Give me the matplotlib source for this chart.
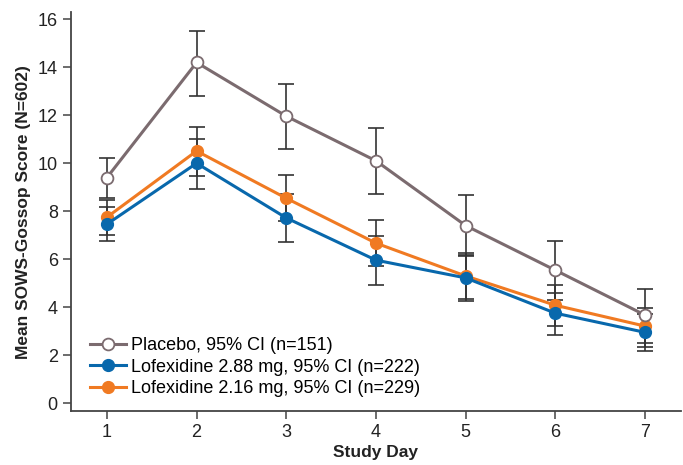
import matplotlib
matplotlib.use("Agg")
import matplotlib.pyplot as plt

plt.rcParams["font.family"] = ["Liberation Sans", "DejaVu Sans"]

days = [1, 2, 3, 4, 5, 6, 7]

placebo_mean = [9.4, 14.2, 11.96, 10.1, 7.4, 5.54, 3.67]
placebo_lo = [8.55, 12.82, 10.6, 8.7, 6.15, 4.3, 2.51]
placebo_hi = [10.22, 15.52, 13.3, 11.47, 8.67, 6.75, 4.74]

lofex288_mean = [7.46, 10.0, 7.72, 5.96, 5.22, 3.75, 2.95]
lofex288_lo = [6.76, 8.92, 6.71, 4.92, 4.26, 2.85, 2.18]
lofex288_hi = [8.16, 11.03, 8.7, 6.98, 6.17, 4.6, 3.72]

lofex216_mean = [7.75, 10.51, 8.54, 6.67, 5.3, 4.08, 3.21]
lofex216_lo = [7.0, 9.47, 7.6, 5.7, 4.33, 3.22, 2.35]
lofex216_hi = [8.45, 11.5, 9.49, 7.62, 6.25, 4.92, 3.95]

labels = [
    "Placebo, 95% CI (n=151)",
    "Lofexidine 2.88 mg, 95% CI (n=222)",
    "Lofexidine 2.16 mg, 95% CI (n=229)",
]

C_PLACEBO = "#7b6b6f"
C_288 = "#0868ac"
C_216 = "#f07a22"
C_ERR = "#333333"


def err(mean, lo, hi):
    return [[m - l for m, l in zip(mean, lo)], [h - m for m, h in zip(mean, hi)]]


fig = plt.figure(figsize=(6.83, 4.65), dpi=100)
ax = fig.add_axes([0.104, 0.116, 0.893, 0.858])

for mean, lo, hi in [(placebo_mean, placebo_lo, placebo_hi),
                     (lofex288_mean, lofex288_lo, lofex288_hi),
                     (lofex216_mean, lofex216_lo, lofex216_hi)]:
    ax.errorbar(days, mean, yerr=err(mean, lo, hi), fmt="none", ecolor=C_ERR,
                elinewidth=1.2, capsize=5.8, capthick=1.2, zorder=2)

l216, = ax.plot(days, lofex216_mean, color=C_216, lw=2.2, marker="o", ms=8.5,
                mfc=C_216, mec=C_216, zorder=3)
l288, = ax.plot(days, lofex288_mean, color=C_288, lw=2.2, marker="o", ms=8.5,
                mfc=C_288, mec=C_288, zorder=4)
lpl, = ax.plot(days, placebo_mean, color=C_PLACEBO, lw=2.2, marker="o", ms=8.5,
               mfc="white", mec=C_PLACEBO, mew=1.3, zorder=5)

ax.set_xlim(0.6, 7.4)
ax.set_ylim(-0.33, 16.3)
ax.set_xticks(days)
ax.set_yticks(range(0, 17, 2))
ax.tick_params(labelsize=13, length=6, width=1.1, color="#444444",
               labelcolor="#222222")
for s in ["top", "right"]:
    ax.spines[s].set_visible(False)
for s in ["left", "bottom"]:
    ax.spines[s].set_linewidth(1.3)
    ax.spines[s].set_color("#444444")

ax.set_xlabel("Study Day", fontsize=12.5, fontweight="bold", color="#222222",
              labelpad=3)
ax.set_ylabel("Mean SOWS-Gossop Score (N=602)", fontsize=12.5, fontweight="bold",
              color="#222222", labelpad=5)

ax.legend([lpl, l288, l216], labels, loc="lower left", frameon=False,
          fontsize=13, handlelength=2.0, handletextpad=0.3, labelspacing=0.25,
          bbox_to_anchor=(0.013, 0.008), borderaxespad=0.2)

fig.savefig("out.png", dpi=100)
